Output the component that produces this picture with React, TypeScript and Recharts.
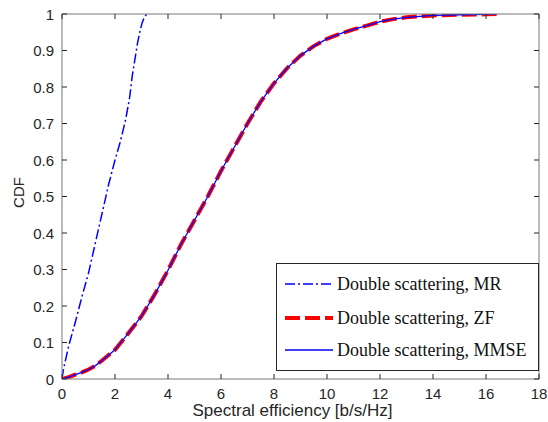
import React from 'react';
import { LineChart, Line, XAxis, YAxis, Legend } from 'recharts';

const xTicks = [0, 2, 4, 6, 8, 10, 12, 14, 16, 18];
const xTickLabels = ['0', '2', '4', '6', '8', '10', '12', '14', '16', '18'];
const yTicks = [0, 0.1, 0.2, 0.3, 0.4, 0.5, 0.6, 0.7, 0.8, 0.9, 1];
const yTickLabels = ['0', '0.1', '0.2', '0.3', '0.4', '0.5', '0.6', '0.7', '0.8', '0.9', '1'];

const mrSe = [0, 0.05, 0.25, 0.5, 0.75, 1, 1.25, 1.5, 1.75, 2, 2.2, 2.4, 2.55, 2.65, 2.75, 2.85, 2.95, 3.02, 3.1, 3.2];
const mrCdf = [0, 0.025, 0.09, 0.155, 0.225, 0.29, 0.37, 0.45, 0.53, 0.6, 0.65, 0.71, 0.77, 0.83, 0.875, 0.92, 0.955, 0.975, 0.99, 1];

const zfSe = [0, 0.25, 0.5, 0.75, 1, 1.25, 1.5, 2, 2.5, 3, 3.5, 4, 4.5, 5, 5.5, 6, 6.5, 7, 7.5, 8, 8.5, 9, 9.5, 10, 10.5, 11, 11.5, 12, 12.5, 13, 14, 15, 16, 16.4];
const zfCdf = [0, 0.005, 0.012, 0.018, 0.026, 0.036, 0.05, 0.08, 0.125, 0.172, 0.232, 0.298, 0.37, 0.435, 0.5, 0.57, 0.635, 0.7, 0.76, 0.81, 0.852, 0.886, 0.912, 0.932, 0.946, 0.958, 0.968, 0.979, 0.986, 0.991, 0.996, 0.998, 0.999, 1];

const mmseSe = [0, 0.25, 0.5, 0.75, 1, 1.25, 1.5, 2, 2.5, 3, 3.5, 4, 4.5, 5, 5.5, 6, 6.5, 7, 7.5, 8, 8.5, 9, 9.5, 10, 10.5, 11, 11.5, 12, 12.5, 13, 14, 15, 16, 16.4];
const mmseCdf = [0, 0.005, 0.012, 0.018, 0.026, 0.036, 0.05, 0.08, 0.125, 0.172, 0.232, 0.298, 0.37, 0.435, 0.5, 0.57, 0.635, 0.7, 0.76, 0.81, 0.852, 0.886, 0.912, 0.932, 0.946, 0.958, 0.968, 0.979, 0.986, 0.991, 0.996, 0.998, 0.999, 1];

const seriesNames = ['Double scattering, MR', 'Double scattering, ZF', 'Double scattering, MMSE'];

const toData = (xs: number[], ys: number[]) => xs.map((x, i) => ({ x, y: ys[i] }));
const mrData = toData(mrSe, mrCdf);
const zfData = toData(zfSe, zfCdf);
const mmseData = toData(mmseSe, mmseCdf);

const TICK_FONT = '"Liberation Sans", Arial, Helvetica, sans-serif';
const TICK_COLOR = '#262626';
const AXIS_COLOR = '#777777';

const BottomTick = (props: any) => {
  const { x, y, index } = props;
  return (
    <g>
      <line x1={x} y1={y} x2={x} y2={y - 5} stroke={TICK_COLOR} strokeWidth={1} />
      <text x={x} y={y + 14} textAnchor="middle" dominantBaseline="central" fontSize={15} fontFamily={TICK_FONT} fill={TICK_COLOR}>
        {xTickLabels[index]}
      </text>
    </g>
  );
};

const TopTick = (props: any) => {
  const { x, y } = props;
  return <line x1={x} y1={y} x2={x} y2={y + 5} stroke={TICK_COLOR} strokeWidth={1} />;
};

const LeftTick = (props: any) => {
  const { x, y, index } = props;
  return (
    <g>
      <line x1={x} y1={y} x2={x + 5} y2={y} stroke={TICK_COLOR} strokeWidth={1} />
      <text x={x - 8} y={y} textAnchor="end" dominantBaseline="central" fontSize={15} fontFamily={TICK_FONT} fill={TICK_COLOR}>
        {yTickLabels[index]}
      </text>
    </g>
  );
};

const RightTick = (props: any) => {
  const { x, y } = props;
  return <line x1={x} y1={y} x2={x - 5} y2={y} stroke={TICK_COLOR} strokeWidth={1} />;
};

const XLabel = (props: any) => {
  const vb = props.viewBox || {};
  return (
    <text x={vb.x + vb.width / 2 - 8} y={vb.y + 31} textAnchor="middle" dominantBaseline="central" fontSize={17} fontFamily={TICK_FONT} fill={TICK_COLOR}>
      Spectral efficiency [b/s/Hz]
    </text>
  );
};

const YLabel = (props: any) => {
  const vb = props.viewBox || {};
  const cx = 18;
  const cy = vb.y + vb.height / 2 - 4;
  return (
    <text x={cx} y={cy} transform={`rotate(-90 ${cx} ${cy})`} textAnchor="middle" dominantBaseline="central" fontSize={15} fontFamily={TICK_FONT} fill={TICK_COLOR}>
      CDF
    </text>
  );
};

const legendStyles = [
  { color: '#0000ff', width: 1.5, dash: '10 3 2 3' },
  { color: '#ff0000', width: 4, dash: '15 5' },
  { color: '#0000ff', width: 1.3, dash: undefined as string | undefined },
];

const CustomLegend = () => (
  <div
    style={{
      width: 263,
      height: 108,
      boxSizing: 'border-box',
      border: '1px solid #262626',
      background: '#ffffff',
      position: 'relative',
    }}
  >
    {seriesNames.map((name, i) => (
      <div
        key={name}
        style={{
          position: 'absolute',
          left: 8,
          top: [20, 54, 86][i] - 10,
          height: 20,
          display: 'flex',
          alignItems: 'center',
          whiteSpace: 'nowrap',
        }}
      >
        <svg width={48} height={10} style={{ display: 'block' }}>
          <line
            x1={0}
            y1={5}
            x2={48}
            y2={5}
            stroke={legendStyles[i].color}
            strokeWidth={legendStyles[i].width}
            strokeDasharray={legendStyles[i].dash}
          />
        </svg>
        <span
          style={{
            marginLeft: 4,
            fontFamily: '"Liberation Serif", "Times New Roman", serif',
            fontSize: 18,
            color: '#111',
            lineHeight: '20px',
          }}
        >
          {name}
        </span>
      </div>
    ))}
  </div>
);

export default function App() {
  return (
    <div style={{ position: 'absolute', left: 0, top: 0, width: 548, height: 422 }}>
      <LineChart width={548} height={422} margin={{ top: 13, right: 8, bottom: 13, left: 22 }}>
        <XAxis
          xAxisId="b"
          type="number"
          dataKey="x"
          domain={[0, 18]}
          ticks={xTicks}
          interval={0}
          allowDataOverflow
          height={30}
          tickSize={0}
          tickMargin={0}
          tickLine={false}
          tick={BottomTick}
          axisLine={{ stroke: AXIS_COLOR, strokeWidth: 1 }}
          label={XLabel}
        />
        <XAxis
          xAxisId="t"
          orientation="top"
          type="number"
          dataKey="x"
          domain={[0, 18]}
          ticks={xTicks}
          interval={0}
          allowDataOverflow
          height={1}
          tickSize={0}
          tickMargin={0}
          tickLine={false}
          tick={TopTick}
          axisLine={{ stroke: AXIS_COLOR, strokeWidth: 1 }}
        />
        <YAxis
          yAxisId="l"
          type="number"
          dataKey="y"
          domain={[0, 1]}
          ticks={yTicks}
          interval={0}
          allowDataOverflow
          width={40}
          tickSize={0}
          tickMargin={0}
          tickLine={false}
          tick={LeftTick}
          axisLine={{ stroke: AXIS_COLOR, strokeWidth: 1 }}
          label={YLabel}
        />
        <YAxis
          yAxisId="r"
          orientation="right"
          type="number"
          dataKey="y"
          domain={[0, 1]}
          ticks={yTicks}
          interval={0}
          allowDataOverflow
          width={1}
          tickSize={0}
          tickMargin={0}
          tickLine={false}
          tick={RightTick}
          axisLine={{ stroke: AXIS_COLOR, strokeWidth: 1 }}
        />
        <Line
          xAxisId="b"
          yAxisId="l"
          data={mrData}
          dataKey="y"
          name={seriesNames[0]}
          type="linear"
          stroke="#0000ff"
          strokeWidth={1.5}
          strokeDasharray="10 3 2 3"
          dot={false}
          activeDot={false}
          isAnimationActive={false}
        />
        <Line
          xAxisId="b"
          yAxisId="l"
          data={zfData}
          dataKey="y"
          name={seriesNames[1]}
          type="linear"
          stroke="#ff0000"
          strokeWidth={4}
          strokeDasharray="15 5"
          dot={false}
          activeDot={false}
          isAnimationActive={false}
        />
        <Line
          xAxisId="b"
          yAxisId="l"
          data={mmseData}
          dataKey="y"
          name={seriesNames[2]}
          type="linear"
          stroke="#0000ff"
          strokeWidth={1.3}
          dot={false}
          activeDot={false}
          isAnimationActive={false}
        />
        <Legend
          layout="vertical"
          align="center"
          verticalAlign="middle"
          content={CustomLegend}
          wrapperStyle={{ position: 'absolute', left: 276, top: 263, width: 263, height: 108 }}
        />
      </LineChart>
    </div>
  );
}
